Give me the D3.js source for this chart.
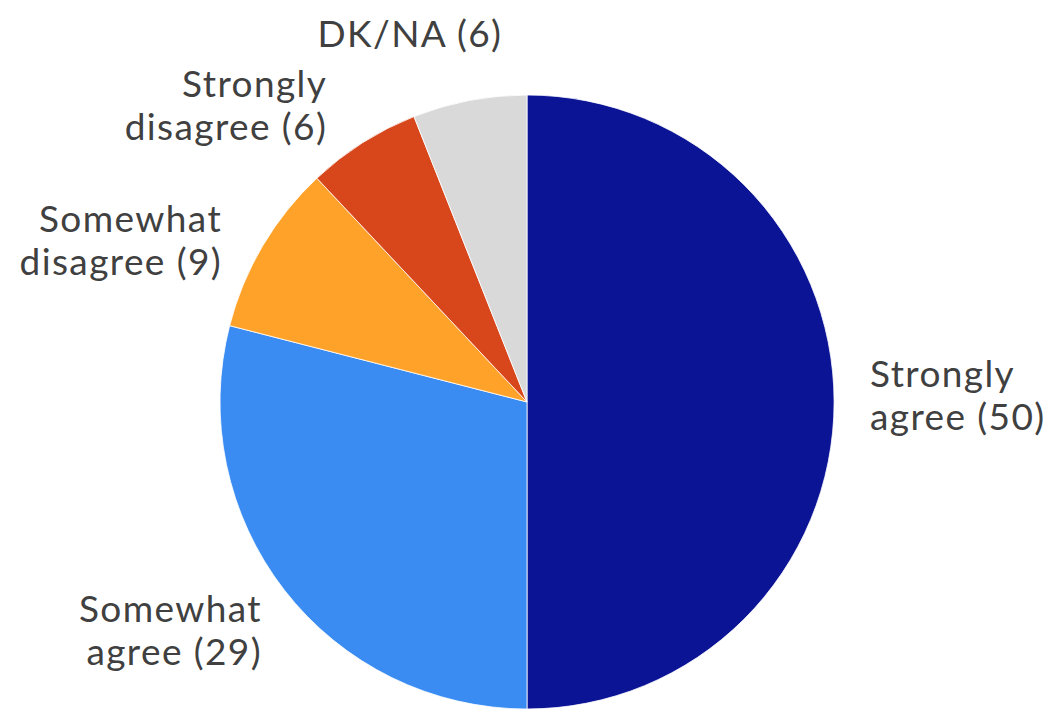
<!DOCTYPE html>
<html>
<head>
<meta charset="utf-8">
<script src="https://cdn.jsdelivr.net/npm/d3@7/dist/d3.min.js"></script>
<style>
  html, body { margin: 0; padding: 0; background: #ffffff; }
  svg { display: block; }
  text { font-family: Lato, "Open Sans", sans-serif; fill: #404040; }
</style>
</head>
<body>
<svg id="chart" width="1055" height="711"></svg>
<script>
// ---- data ----
const categories = ["Strongly agree", "Somewhat agree", "Somewhat disagree", "Strongly disagree", "DK/NA"];
const values = [50, 29, 9, 6, 6];
const colors = ["#0c1496", "#3a8cf2", "#ffa22a", "#d8461c", "#d9d9d9"];
const labelLines = [
  ["Strongly", "agree (50)"],
  ["Somewhat", "agree (29)"],
  ["Somewhat", "disagree (9)"],
  ["Strongly", "disagree (6)"],
  ["DK/NA (6)"]
];

// ---- layout ----
const W = 1055, H = 711;
const cx = 527, cy = 402, R = 307;
const fontSize = 37, lineH = 43;
// label placement: radius of anchor, anchor type, extra offsets
const labelLayout = [
  { r: 343, anchor: "start", dx: 0, dy: -6.5 },
  { r: 345, anchor: "end", dx: 7.6, dy: 17.4 },
  { r: 335, anchor: "end", dx: -16.6, dy: 9.5 },
  { r: 330, anchor: "end", dx: -23, dy: -18 },
  { r: 360, anchor: "middle", dx: -49.6, dy: -14.5 }
];

const svg = d3.select("#chart");
const g = svg.append("g").attr("transform", `translate(${cx},${cy})`);

const data = categories.map((c, i) => ({ category: c, value: values[i], color: colors[i], lines: labelLines[i], layout: labelLayout[i] }));

const pie = d3.pie().sort(null).value(d => d.value).startAngle(0).endAngle(2 * Math.PI);
const arcs = pie(data);
const arc = d3.arc().innerRadius(0).outerRadius(R);

g.selectAll("path.slice")
  .data(arcs)
  .enter().append("path")
  .attr("class", "slice")
  .attr("d", arc)
  .attr("fill", d => d.data.color)
  .attr("stroke", "#ffffff")
  .attr("stroke-width", 0.8);

g.selectAll("text.label")
  .data(arcs)
  .enter().append("text")
  .attr("class", "label")
  .attr("font-size", fontSize)
  .attr("letter-spacing", 1.4)
  .attr("text-anchor", d => d.data.layout.anchor)
  .each(function(d) {
    const L = d.data.layout;
    const a = (d.startAngle + d.endAngle) / 2;
    const x = Math.sin(a) * L.r + L.dx;
    const y = -Math.cos(a) * L.r + L.dy;
    const n = d.data.lines.length;
    const t = d3.select(this);
    d.data.lines.forEach((line, i) => {
      t.append("tspan")
        .attr("x", x)
        .attr("y", y + (i - (n - 1) / 2) * lineH + fontSize * 0.35)
        .text(line);
    });
  });
</script>
</body>
</html>
